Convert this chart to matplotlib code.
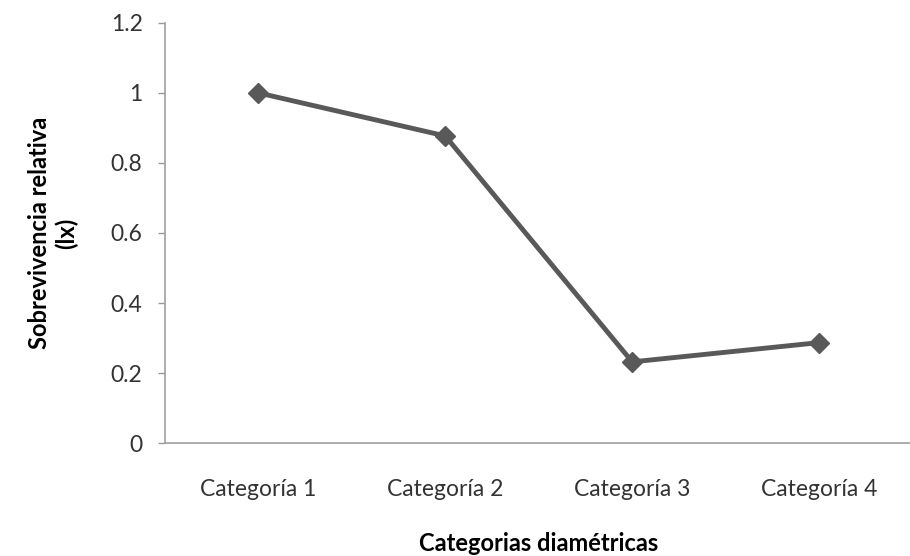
import matplotlib
matplotlib.use("Agg")
import matplotlib.pyplot as plt

categories = ["Categoría 1", "Categoría 2", "Categoría 3", "Categoría 4"]
values = [1.0, 0.877, 0.232, 0.287]
yticks = [0, 0.2, 0.4, 0.6, 0.8, 1, 1.2]
ytick_labels = ["0", "0.2", "0.4", "0.6", "0.8", "1", "1.2"]

plt.rcParams['font.family'] = ['Lato', 'DejaVu Sans']

fig = plt.figure(figsize=(9.10, 5.56), dpi=100)
fig.patch.set_facecolor("white")
ax = fig.add_axes([0.181, 0.203, 0.822, 0.756])

x = list(range(len(categories)))
ax.plot(x, values, color="#595959", linewidth=3.5, marker="D", markersize=10,
        markerfacecolor="#595959", markeredgecolor="#595959")

ax.set_xlim(-0.5, len(categories) - 0.5)
ax.set_ylim(0, 1.2)
ax.set_yticks(yticks)
ax.set_yticklabels(ytick_labels, fontsize=16.5, color="#333333")
ax.set_xticks(x)
ax.set_xticklabels(categories, fontsize=16.5, color="#333333")
ax.tick_params(axis="x", length=0, pad=26)
ax.tick_params(axis="y", length=5, color="#999999", width=1, pad=11)

for s in ["top", "right"]:
    ax.spines[s].set_visible(False)
for s in ["left", "bottom"]:
    ax.spines[s].set_color("#a0a0a0")
    ax.spines[s].set_linewidth(1.2)

ax.set_xlabel("Categorias diamétricas", fontsize=17, fontweight="bold", labelpad=23)
ax.set_ylabel("Sobrevivencia relativa\n(lx)", fontsize=17, fontweight="bold", labelpad=23)

fig.savefig("out.png", dpi=100)
